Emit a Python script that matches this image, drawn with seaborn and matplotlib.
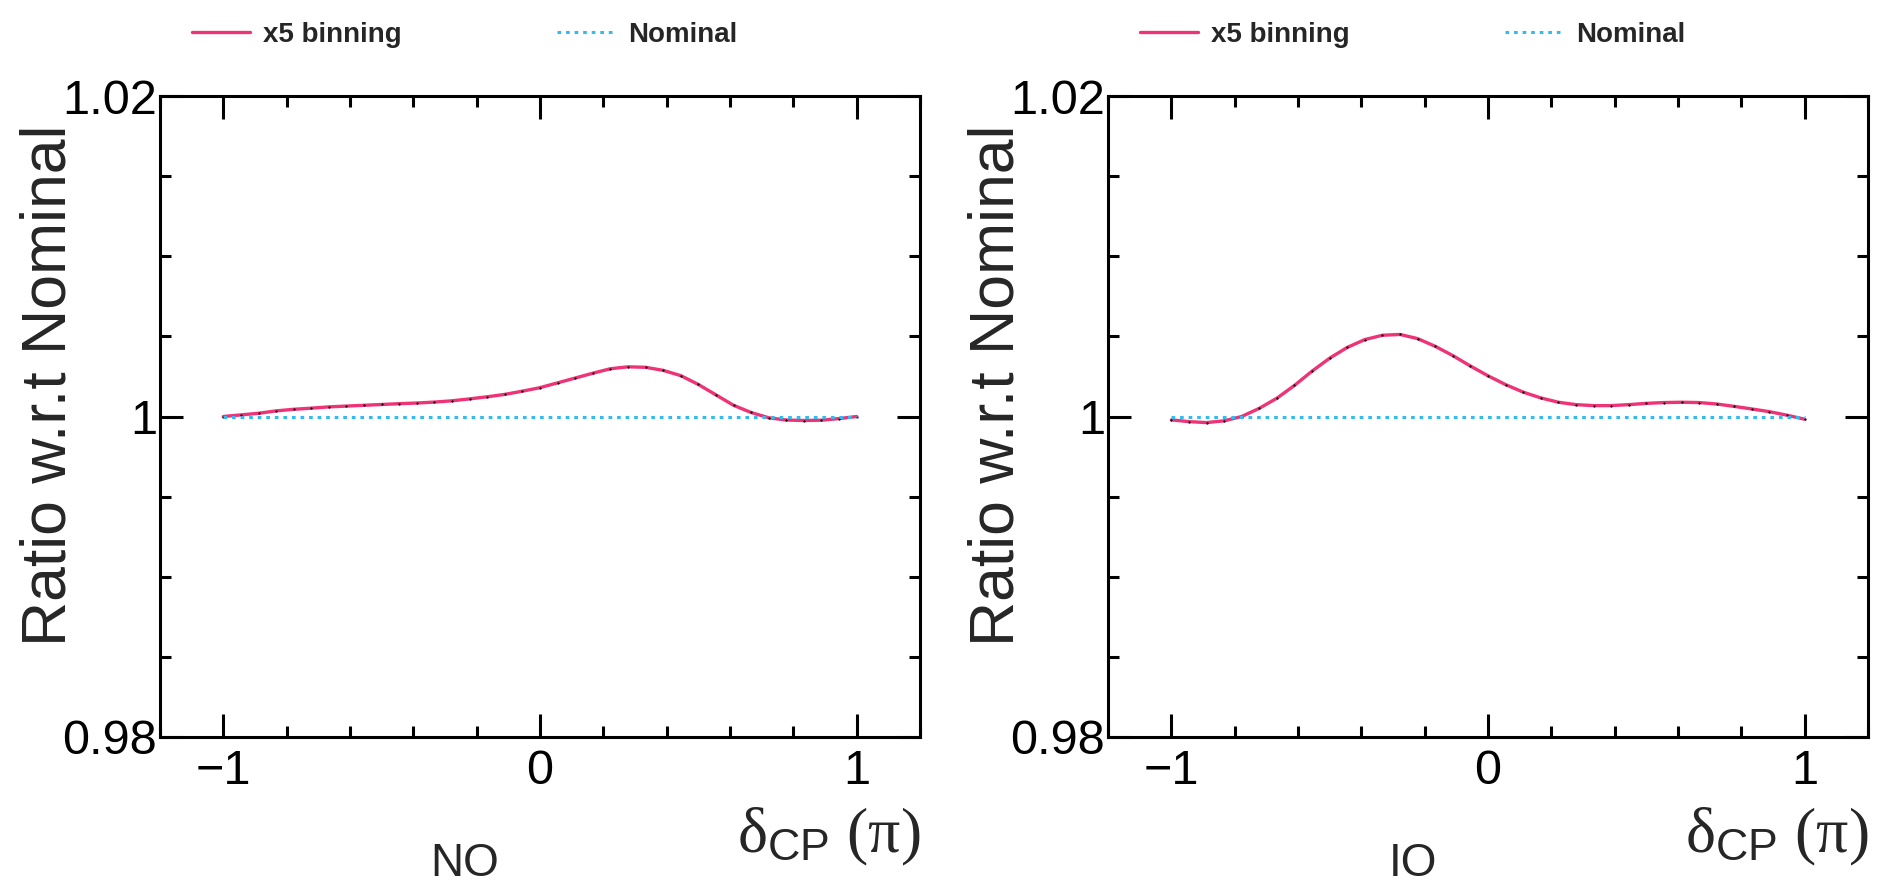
import numpy as np
import pandas as pd
import matplotlib
matplotlib.use("Agg")
import matplotlib.pyplot as plt
import seaborn as sns
from matplotlib.lines import Line2D
from matplotlib.ticker import FixedLocator, MultipleLocator

# delta_CP grid (degrees), 10 degree steps
delta_cp_deg = [-180, -170, -160, -150, -140, -130, -120, -110, -100, -90,
                -80, -70, -60, -50, -40, -30, -20, -10, 0, 10,
                20, 30, 40, 50, 60, 70, 80, 90, 100, 110,
                120, 130, 140, 150, 160, 170, 180]

# ratio of x5 binning w.r.t nominal, normal ordering
ratio_no = [1.00000, 1.00010, 1.00020, 1.00035, 1.00045, 1.00052, 1.00060, 1.00065,
            1.00070, 1.00075, 1.00080, 1.00084, 1.00090, 1.00098, 1.00110, 1.00123,
            1.00138, 1.00158, 1.00180, 1.00210, 1.00240, 1.00270, 1.00298, 1.00310,
            1.00307, 1.00288, 1.00255, 1.00200, 1.00135, 1.00070, 1.00025, 0.99992,
            0.99978, 0.99975, 0.99977, 0.99987, 1.00000]

# inverted ordering
ratio_io = [0.99979, 0.99968, 0.99962, 0.99973, 1.00000, 1.00051, 1.00114, 1.00194,
            1.00283, 1.00364, 1.00431, 1.00480, 1.00507, 1.00512, 1.00486, 1.00438,
            1.00380, 1.00315, 1.00254, 1.00199, 1.00152, 1.00116, 1.00089, 1.00074,
            1.00068, 1.00068, 1.00074, 1.00082, 1.00087, 1.00089, 1.00087, 1.00078,
            1.00063, 1.00047, 1.00030, 1.00008, 0.99983]

nominal = [1.0] * len(delta_cp_deg)

panel_names = ["NO", "IO"]
series_labels = ["x5 binning", "Nominal"]
x_ticks = [-1, 0, 1]
x_ticklabels = ["\u22121", "0", "1"]
y_ticks = [0.98, 1.0, 1.02]
y_ticklabels = ["0.98", "1", "1.02"]

PINK = "#EE3377"
CYAN = "#33BBEE"

sns.set_theme(style="ticks")
plt.rcParams["font.family"] = ["Liberation Sans", "DejaVu Sans"]
plt.rcParams["mathtext.fontset"] = "custom"
plt.rcParams["mathtext.rm"] = "Liberation Serif"
plt.rcParams["mathtext.it"] = "Liberation Serif:italic"
plt.rcParams["mathtext.bf"] = "Liberation Serif:bold"
plt.rcParams["mathtext.sf"] = "Liberation Sans"
plt.rcParams["axes.linewidth"] = 2.2

W, H = 1884, 884
fig = plt.figure(figsize=(W / 100, H / 100), dpi=100)

panel_left = [160, 1108]
ax_w, ax_top, ax_bot = 760, 96, 737

for i, (name, ratio) in enumerate(zip(panel_names, [ratio_no, ratio_io])):
    x0 = panel_left[i]
    ax = fig.add_axes([x0 / W, 1 - ax_bot / H, ax_w / W, (ax_bot - ax_top) / H])
    df = pd.DataFrame({"delta": np.array(delta_cp_deg) / 180.0,
                       "ratio": ratio, "nominal": nominal})

    sns.lineplot(data=df, x="delta", y="ratio", ax=ax, color=PINK, lw=2.4,
                 marker="o", markersize=1.6, markerfacecolor="black",
                 markeredgewidth=0, zorder=2)
    sns.lineplot(data=df, x="delta", y="nominal", ax=ax, color=CYAN, lw=2.2,
                 linestyle=(0, (1.2, 1.6)), zorder=3)

    ax.set_xlim(-1.2, 1.2)
    ax.set_ylim(0.98, 1.02)
    ax.xaxis.set_major_locator(FixedLocator(x_ticks))
    ax.set_xticklabels(x_ticklabels)
    ax.xaxis.set_minor_locator(MultipleLocator(0.2))
    ax.yaxis.set_major_locator(FixedLocator(y_ticks))
    ax.set_yticklabels(y_ticklabels)
    ax.yaxis.set_minor_locator(MultipleLocator(0.005))
    ax.tick_params(which="both", direction="in", top=True, right=True,
                   width=2.2, labelsize=35, colors="black")
    ax.tick_params(which="major", length=16.5)
    ax.tick_params(which="minor", length=8)
    ax.tick_params(axis="x", which="major", pad=9)
    ax.tick_params(axis="y", which="major", pad=2)
    for sp in ax.spines.values():
        sp.set_color("black")
    ax.set_xlabel("")
    ax.set_ylabel("")

    # axis titles
    ax.text(-(160 - 20) / ax_w, 1 - (125 - ax_top) / (ax_bot - ax_top),
            "Ratio w.r.t Nominal", transform=ax.transAxes, rotation=90,
            ha="left", va="top", fontsize=45)
    ax.text(1.0, -(852 - ax_bot) / (ax_bot - ax_top),
            r"$\mathrm{\delta}_{\mathsf{CP}}\ \mathrm{(\pi)}$", transform=ax.transAxes,
            ha="right", va="baseline", fontsize=46)

    # panel caption
    fig.text((x0 + 305) / W, 8 / H, name, ha="center", va="baseline", fontsize=33)

    handles = [Line2D([], [], color=PINK, lw=2.4),
               Line2D([], [], color=CYAN, lw=2.2, linestyle=(0, (1.2, 1.6)))]
    fig.legend(handles, series_labels, loc="upper left",
               bbox_to_anchor=((x0 + 32) / W, 1 - 22 / H), ncol=2,
               frameon=False, borderpad=0, borderaxespad=0,
               handlelength=2.1, handletextpad=0.45, columnspacing=5.6,
               prop={"weight": "bold", "size": 20})

fig.savefig("out.png", dpi=100)
